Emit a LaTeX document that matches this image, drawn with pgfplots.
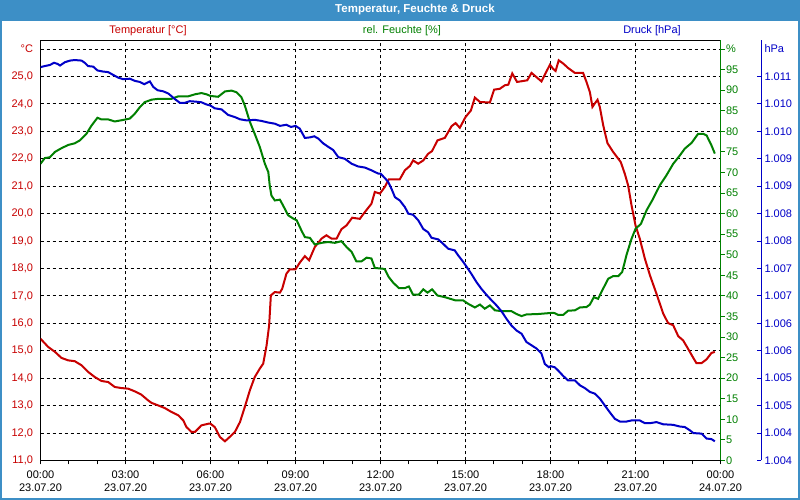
\documentclass[border=0pt]{standalone}
\usepackage{fontspec}
\setmainfont{Liberation Sans}
\usepackage{pgfplots}
\pgfplotsset{compat=1.18}
\definecolor{tred}{RGB}{200,0,0}
\definecolor{hgreen}{RGB}{0,128,0}
\definecolor{pblue}{RGB}{0,0,200}
\definecolor{barblue}{RGB}{61,143,198}
\begin{document}
\begin{tikzpicture}[x=1pt,y=1pt,font=\fontsize{11}{13}\selectfont]
\path[use as bounding box] (0pt,0pt) rectangle (800pt,500pt);
\fill[white] (0pt,0pt) rectangle (800pt,500pt);
\fill[barblue] (0pt,479pt) rectangle (800pt,500pt);
\draw[barblue, line width=2pt] (1pt,1pt) rectangle (799pt,499pt);
\node[white, font=\fontsize{11.5}{13}\selectfont\bfseries] at (415pt,490pt) {Temperatur, Feuchte \& Druck};
\node[tred] at (148pt,469pt) {Temperatur [°C]};
\node[hgreen] at (402pt,469pt) {rel. Feuchte [\%]};
\node[pblue] at (652pt,469pt) {Druck [hPa]};

% main temperature axis
\begin{axis}[
  at={(40.5pt,39.5pt)}, anchor=south west,
  scale only axis, width=680pt, height=420.2pt,
  xmin=0, xmax=24, ymin=11, ymax=26.319,
  axis line style={black, line width=1pt},
  xtick={0,3,6,9,12,15,18,21,24},
  minor xtick={1,2,4,5,7,8,10,11,13,14,16,17,19,20,22,23},
  xticklabels={{00:00\\[-1pt]23.07.20},{03:00\\[-1pt]23.07.20},{06:00\\[-1pt]23.07.20},{09:00\\[-1pt]23.07.20},{12:00\\[-1pt]23.07.20},{15:00\\[-1pt]23.07.20},{18:00\\[-1pt]23.07.20},{21:00\\[-1pt]23.07.20},{00:00\\[-1pt]24.07.20}},
  xticklabel style={align=center, font=\fontsize{11}{14}\selectfont, text=black, yshift=-3pt},
  xtick pos=lower, ytick pos=lower,
  tick align=outside,
  x tick style={black, line width=1pt},
  major tick length=4pt, minor tick length=4pt,
  ytick={11,12,13,14,15,16,17,18,19,20,21,22,23,24,25,26},
  yticklabels={{11,0},{12,0},{13,0},{14,0},{15,0},{16,0},{17,0},{18,0},{19,0},{20,0},{21,0},{22,0},{23,0},{24,0},{25,0},°C},
  y tick style={draw=none},
  yticklabel style={text=tred, font=\fontsize{11}{13}\selectfont},
  xmajorgrids, ymajorgrids,
  grid style={black, line width=1pt, dash pattern=on 3pt off 3pt},
]
\addplot[tred, line width=2pt] coordinates {
(0.00,15.44) (0.27,15.14) (0.51,14.96) (0.74,14.74) (0.98,14.65) (1.21,14.62) (1.45,14.47) (1.68,14.23) (1.92,14.04) (2.15,13.90) (2.39,13.86) (2.62,13.68) (2.86,13.64) (3.09,13.62) (3.33,13.52) (3.56,13.40) (3.80,13.19) (3.92,13.10) (4.15,13.01) (4.39,12.91) (4.62,12.77) (4.86,12.65) (5.04,12.46) (5.15,12.22) (5.33,12.04) (5.45,12.04) (5.68,12.28) (5.92,12.34) (6.00,12.34) (6.15,12.22) (6.33,11.86) (6.51,11.70) (6.68,11.86) (6.86,12.04) (7.04,12.40) (7.21,12.95) (7.39,13.56) (7.56,14.04) (7.74,14.35) (7.86,14.53) (7.98,15.20) (8.07,15.93) (8.13,17.02) (8.27,17.14) (8.45,17.12) (8.53,17.26) (8.68,17.81) (8.80,17.97) (9.00,17.97) (9.15,18.21) (9.33,18.45) (9.48,18.30) (9.68,18.78) (9.92,19.09) (10.09,19.21) (10.27,19.09) (10.45,19.09) (10.62,19.43) (10.80,19.57) (11.00,19.85) (11.27,19.81) (11.45,20.06) (11.68,20.36) (11.80,20.79) (11.98,20.73) (12.15,20.97) (12.29,21.25) (12.68,21.25) (12.86,21.58) (13.04,21.74) (13.15,21.94) (13.33,21.82) (13.51,21.94) (13.68,22.18) (13.82,22.28) (14.01,22.67) (14.27,22.76) (14.51,23.19) (14.65,23.30) (14.80,23.13) (15.00,23.52) (15.19,23.76) (15.33,24.23) (15.51,24.07) (15.86,24.05) (16.01,24.52) (16.21,24.55) (16.39,24.68) (16.51,24.70) (16.65,25.11) (16.82,24.80) (17.18,24.86) (17.33,25.13) (17.68,24.82) (17.98,25.43) (18.09,25.28) (18.18,25.20) (18.29,25.59) (18.45,25.47) (18.62,25.31) (18.86,25.13) (19.15,25.13) (19.27,24.80) (19.39,24.43) (19.48,23.89) (19.56,24.01) (19.66,24.15) (19.74,23.89) (19.86,23.22) (20.01,22.57) (20.21,22.25) (20.48,21.88) (20.62,21.46) (20.74,21.03) (20.86,20.30) (21.00,19.57) (21.15,19.09) (21.33,18.36) (21.51,17.75) (21.74,17.08) (21.98,16.35) (22.15,16.01) (22.33,15.93) (22.51,15.53) (22.68,15.38) (22.84,15.10) (23.04,14.74) (23.15,14.55) (23.33,14.55) (23.51,14.69) (23.68,14.92) (23.80,14.96)
};
\end{axis}

% humidity axis
\begin{axis}[
  at={(40.5pt,39.5pt)}, anchor=south west,
  scale only axis, width=680pt, height=420.2pt,
  xmin=0, xmax=24, ymin=0, ymax=102.13,
  hide x axis,
  axis y line*=right,
  y axis line style={hgreen, line width=1pt, -},
  ytick={0,5,10,15,20,25,30,35,40,45,50,55,60,65,70,75,80,85,90,95,100},
  yticklabels={0,5,10,15,20,25,30,35,40,45,50,55,60,65,70,75,80,85,90,95,\%},
  tick align=outside, major tick length=4pt,
  y tick style={hgreen, line width=1pt},
  yticklabel style={text=hgreen, font=\fontsize{11}{13}\selectfont, xshift=-2pt},
]
\addplot[hgreen, line width=2pt] coordinates {
(0.00,72.1) (0.15,73.5) (0.33,73.7) (0.51,75.0) (0.74,75.9) (0.98,76.7) (1.21,77.1) (1.39,77.8) (1.62,79.4) (1.80,81.4) (2.01,83.3) (2.15,82.9) (2.39,82.9) (2.62,82.4) (2.86,82.7) (3.15,83.1) (3.33,84.3) (3.51,85.9) (3.68,87.1) (3.92,87.7) (4.15,87.9) (4.62,87.9) (4.86,88.5) (5.21,88.5) (5.45,89.0) (5.68,89.3) (5.86,89.0) (6.00,88.6) (6.27,88.4) (6.51,89.7) (6.74,89.9) (6.92,89.5) (7.09,88.3) (7.21,86.3) (7.39,82.3) (7.56,79.4) (7.74,76.2) (7.92,72.1) (8.04,70.1) (8.09,66.9) (8.15,64.4) (8.27,63.2) (8.45,63.4) (8.56,62.0) (8.74,59.6) (8.92,58.8) (9.04,58.4) (9.21,55.9) (9.33,54.3) (9.51,54.1) (9.68,52.5) (9.92,52.9) (10.15,53.1) (10.39,52.9) (10.62,53.3) (10.80,51.9) (10.98,50.7) (11.15,48.4) (11.33,48.4) (11.51,49.3) (11.68,49.1) (11.80,46.8) (12.09,46.6) (12.15,46.5) (12.29,44.6) (12.45,43.2) (12.65,41.9) (12.86,41.9) (13.00,42.3) (13.15,40.3) (13.35,40.3) (13.51,41.6) (13.66,40.8) (13.82,41.6) (14.01,40.1) (14.27,39.7) (14.51,39.2) (14.65,38.9) (14.92,38.9) (15.09,38.1) (15.33,37.2) (15.51,37.9) (15.68,36.9) (15.86,37.7) (16.04,36.5) (16.27,36.3) (16.62,36.3) (16.80,35.6) (16.98,35.1) (17.15,35.5) (17.56,35.6) (18.09,35.9) (18.15,35.8) (18.27,35.4) (18.45,35.4) (18.62,36.4) (18.86,36.5) (19.04,37.2) (19.27,37.3) (19.39,37.9) (19.53,39.7) (19.68,39.3) (19.86,41.8) (20.04,44.2) (20.21,44.8) (20.39,44.8) (20.53,45.8) (20.68,49.9) (20.86,53.9) (21.00,56.3) (21.19,57.5) (21.39,60.8) (21.62,63.6) (21.86,66.9) (22.09,69.3) (22.33,72.1) (22.56,74.1) (22.74,75.8) (22.98,77.2) (23.21,79.4) (23.39,79.4) (23.51,79.0) (23.68,76.6) (23.80,74.6)
};
\end{axis}

% pressure axis
\begin{axis}[
  at={(40.5pt,39.5pt)}, anchor=south west,
  scale only axis, width=720.5pt, height=420.2pt,
  xmin=0, xmax=25.429, ymin=1004, ymax=1011.66,
  hide x axis,
  axis y line*=right,
  y axis line style={pblue, line width=1pt, -},
  ytick={1004,1004.5,1005,1005.5,1006,1006.5,1007,1007.5,1008,1008.5,1009,1009.5,1010,1010.5,1011},
  yticklabels={1.004,1.004,1.005,1.005,1.006,1.006,1.007,1.007,1.008,1.008,1.009,1.009,1.010,1.010,1.011},
  extra y ticks={1011.5}, extra y tick labels={hPa},
  extra y tick style={major tick length=0pt},
  tick align=inside, major tick length=4pt,
  y tick style={pblue, line width=1pt},
  yticklabel style={text=pblue, font=\fontsize{11}{13}\selectfont},
]
\addplot[pblue, line width=2pt] coordinates {
(0.00,1011.17) (0.15,1011.19) (0.33,1011.21) (0.48,1011.25) (0.60,1011.23) (0.69,1011.20) (0.86,1011.26) (1.04,1011.29) (1.21,1011.30) (1.45,1011.29) (1.56,1011.25) (1.68,1011.19) (1.86,1011.18) (2.01,1011.11) (2.21,1011.09) (2.39,1011.08) (2.56,1011.03) (2.74,1010.98) (2.92,1010.95) (3.15,1010.96) (3.33,1010.92) (3.51,1010.90) (3.66,1010.86) (3.78,1010.89) (3.86,1010.91) (3.98,1010.81) (4.13,1010.75) (4.33,1010.73) (4.51,1010.69) (4.74,1010.59) (4.92,1010.52) (5.09,1010.52) (5.27,1010.55) (5.51,1010.54) (5.68,1010.53) (5.86,1010.49) (6.00,1010.47) (6.15,1010.42) (6.39,1010.40) (6.62,1010.30) (6.86,1010.26) (7.04,1010.22) (7.27,1010.20) (7.56,1010.21) (7.80,1010.19) (8.04,1010.16) (8.27,1010.14) (8.45,1010.10) (8.68,1010.12) (8.84,1010.08) (9.00,1010.10) (9.15,1010.05) (9.33,1009.88) (9.51,1009.89) (9.66,1009.91) (9.80,1009.87) (9.98,1009.78) (10.15,1009.72) (10.33,1009.66) (10.51,1009.53) (10.74,1009.50) (10.98,1009.41) (11.21,1009.36) (11.45,1009.34) (11.68,1009.29) (11.92,1009.23) (12.00,1009.23) (12.15,1009.15) (12.27,1009.08) (12.39,1008.95) (12.51,1008.80) (12.68,1008.74) (12.86,1008.62) (12.98,1008.50) (13.15,1008.48) (13.33,1008.38) (13.51,1008.22) (13.68,1008.16) (13.80,1008.06) (14.04,1008.03) (14.21,1007.95) (14.39,1007.86) (14.62,1007.83) (14.74,1007.74) (14.92,1007.62) (15.04,1007.53) (15.21,1007.40) (15.39,1007.25) (15.56,1007.13) (15.74,1007.02) (15.92,1006.92) (16.09,1006.83) (16.27,1006.72) (16.45,1006.58) (16.62,1006.46) (16.80,1006.37) (16.98,1006.31) (17.15,1006.16) (17.33,1006.10) (17.51,1006.04) (17.68,1005.95) (17.80,1005.76) (17.94,1005.70) (18.00,1005.72) (18.15,1005.70) (18.27,1005.64) (18.45,1005.54) (18.62,1005.46) (18.86,1005.46) (19.04,1005.37) (19.21,1005.32) (19.39,1005.25) (19.56,1005.22) (19.74,1005.13) (19.92,1005.00) (20.09,1004.88) (20.27,1004.76) (20.45,1004.71) (20.68,1004.71) (20.86,1004.73) (21.15,1004.73) (21.33,1004.68) (21.51,1004.68) (21.74,1004.70) (21.98,1004.66) (22.33,1004.65) (22.56,1004.62) (22.74,1004.61) (22.92,1004.55) (23.04,1004.50) (23.33,1004.49) (23.51,1004.40) (23.68,1004.39) (23.80,1004.35)
};
\end{axis}
\end{tikzpicture}
\end{document}
